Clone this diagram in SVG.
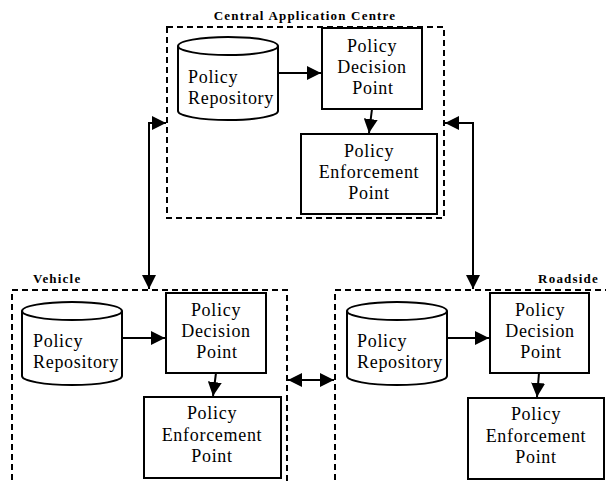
<svg xmlns="http://www.w3.org/2000/svg" width="606" height="481" viewBox="0 0 606 481">
<style>
.bg{fill:#fff}
.box{fill:#fff;stroke:#000;stroke-width:2}
.cyl{fill:#fff;stroke:#000;stroke-width:2}
.dash{fill:none;stroke:#000;stroke-width:2;stroke-dasharray:6 4}
.t{font-family:"Liberation Serif","Times New Roman",serif;font-size:18px;letter-spacing:0.7px;fill:#000}
.c{text-anchor:middle}
.title{font-family:"Liberation Serif","Times New Roman",serif;font-size:13px;font-weight:bold;letter-spacing:1.2px;fill:#000}
.conn{fill:none;stroke:#000;stroke-width:2}
</style>
<defs>
<marker id="ah" markerUnits="userSpaceOnUse" markerWidth="15" markerHeight="14" refX="14" refY="7" orient="auto-start-reverse" viewBox="0 0 15 14">
<path d="M0,0 L14,7 L0,14 z" fill="#000"/>
</marker>
</defs>
<rect class="bg" x="0" y="0" width="606" height="481"/>

<g id="central-centre">
<path class="dash" d="M167,27 H444 V218 H167 Z"/>
<text class="title c" x="305" y="20">Central Application Centre</text>
</g>
<g id="vehicle">
<path class="dash" d="M12,490 V290 H287 V490"/>
<text class="title" x="33" y="283">Vehicle</text>
</g>
<g id="roadside">
<path class="dash" d="M335,490 V290 H615"/>
<text class="title" x="599" y="283" text-anchor="end">Roadside</text>
</g>

<g id="central-repo">
<path class="cyl" d="M178,46 V111 A50,9 0 0 0 278,111 V46 A50,9 0 0 0 178,46 Z"/>
<path class="cyl" d="M178,46 A50,9 0 0 0 278,46" fill="none"/>
<text class="t" x="188" y="83">Policy</text>
<text class="t" x="188" y="104">Repository</text>
</g>
<g id="central-pdp">
<rect class="box" x="322" y="28" width="100" height="81"/>
<text class="t c" x="372" y="52">Policy</text>
<text class="t c" x="372" y="73">Decision</text>
<text class="t c" x="373" y="94">Point</text>
</g>
<g id="central-pep">
<rect class="box" x="301" y="134" width="136" height="80"/>
<text class="t c" x="369" y="157">Policy</text>
<text class="t c" x="369" y="178">Enforcement</text>
<text class="t c" x="369" y="199">Point</text>
</g>

<g id="vehicle-repo">
<path class="cyl" d="M22,311 V376 A50,9 0 0 0 122,376 V311 A50,9 0 0 0 22,311 Z"/>
<path class="cyl" d="M22,311 A50,9 0 0 0 122,311" fill="none"/>
<text class="t" x="33" y="347">Policy</text>
<text class="t" x="33" y="368">Repository</text>
</g>
<g id="vehicle-pdp">
<rect class="box" x="166" y="293" width="100" height="80"/>
<text class="t c" x="216" y="316">Policy</text>
<text class="t c" x="216" y="337">Decision</text>
<text class="t c" x="217" y="358">Point</text>
</g>
<g id="vehicle-pep">
<rect class="box" x="144" y="397" width="137" height="81"/>
<text class="t c" x="212" y="419">Policy</text>
<text class="t c" x="212" y="441">Enforcement</text>
<text class="t c" x="212" y="462">Point</text>
</g>

<g id="roadside-repo">
<path class="cyl" d="M347,311 V376 A50,9 0 0 0 447,376 V311 A50,9 0 0 0 347,311 Z"/>
<path class="cyl" d="M347,311 A50,9 0 0 0 447,311" fill="none"/>
<text class="t" x="357" y="347">Policy</text>
<text class="t" x="357" y="368">Repository</text>
</g>
<g id="roadside-pdp">
<rect class="box" x="490" y="293" width="99" height="80"/>
<text class="t c" x="540" y="316">Policy</text>
<text class="t c" x="540" y="337">Decision</text>
<text class="t c" x="541" y="358">Point</text>
</g>
<g id="roadside-pep">
<rect class="box" x="468" y="398" width="136" height="81"/>
<text class="t c" x="536" y="420">Policy</text>
<text class="t c" x="536" y="442">Enforcement</text>
<text class="t c" x="536" y="463">Point</text>
</g>

<g id="connectors">
<path class="conn" d="M278,73 H321" marker-end="url(#ah)"/>
<path class="conn" d="M372,109 L369,133" marker-end="url(#ah)"/>
<path class="conn" d="M122,338 H165" marker-end="url(#ah)"/>
<path class="conn" d="M216,373 L213,396" marker-end="url(#ah)"/>
<path class="conn" d="M447,338 H489" marker-end="url(#ah)"/>
<path class="conn" d="M539,373 L537,397" marker-end="url(#ah)"/>
<path class="conn" d="M166,123 H149 V289" marker-start="url(#ah)" marker-end="url(#ah)"/>
<path class="conn" d="M445,123 H473 V289" marker-start="url(#ah)" marker-end="url(#ah)"/>
<path class="conn" d="M288,380 H334" marker-start="url(#ah)" marker-end="url(#ah)"/>
</g>
</svg>
